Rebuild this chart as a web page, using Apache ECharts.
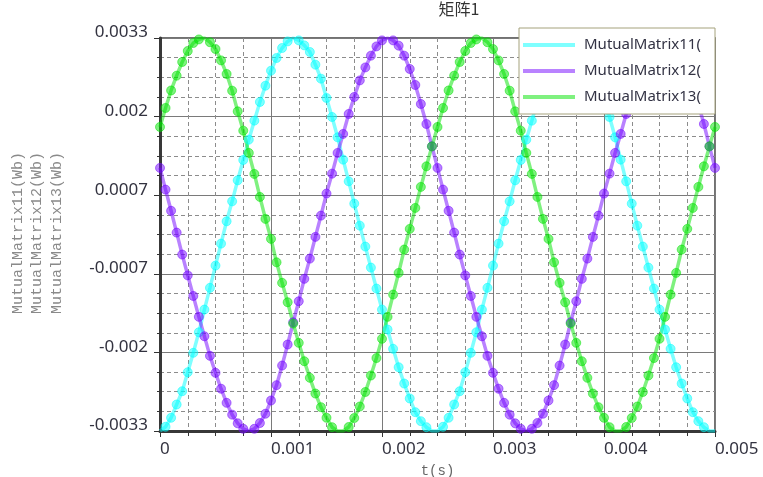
<!DOCTYPE html>
<html>
<head>
<meta charset="utf-8">
<script src="https://cdn.jsdelivr.net/npm/echarts@6/dist/echarts.min.js"></script>
<style>html,body{margin:0;padding:0;background:#fff;}#c{width:763px;height:477px;}</style>
</head>
<body>
<div id="c"></div>
<script>
const chartTitle = '矩阵1';
const seriesNames = ['MutualMatrix11(Wb)', 'MutualMatrix12(Wb)', 'MutualMatrix13(Wb)'];
const xName = 't(s)';
const xTickValues = [0, 0.001, 0.002, 0.003, 0.004, 0.005];
const xTickLabels = ['0', '0.001', '0.002', '0.003', '0.004', '0.005'];
const yTickValues = [-0.0033, -0.00198, -0.00066, 0.00066, 0.00198, 0.0033];
const yTickLabels = ['-0.0033', '-0.002', '-0.0007', '0.0007', '0.002', '0.0033'];

const times = [
0, 0.00005, 0.0001, 0.00015, 0.0002, 0.00025, 0.0003, 0.00035, 0.0004, 0.00045,
0.0005, 0.00055, 0.0006, 0.00065, 0.0007, 0.00075, 0.0008, 0.00085, 0.0009, 0.00095,
0.001, 0.00105, 0.0011, 0.00115, 0.0012, 0.00125, 0.0013, 0.00135, 0.0014, 0.00145,
0.0015, 0.00155, 0.0016, 0.00165, 0.0017, 0.00175, 0.0018, 0.00185, 0.0019, 0.00195,
0.002, 0.00205, 0.0021, 0.00215, 0.0022, 0.00225, 0.0023, 0.00235, 0.0024, 0.00245,
0.0025, 0.00255, 0.0026, 0.00265, 0.0027, 0.00275, 0.0028, 0.00285, 0.0029, 0.00295,
0.003, 0.00305, 0.0031, 0.00315, 0.0032, 0.00325, 0.0033, 0.00335, 0.0034, 0.00345,
0.0035, 0.00355, 0.0036, 0.00365, 0.0037, 0.00375, 0.0038, 0.00385, 0.0039, 0.00395,
0.004, 0.00405, 0.0041, 0.00415, 0.0042, 0.00425, 0.0043, 0.00435, 0.0044, 0.00445,
0.0045, 0.00455, 0.0046, 0.00465, 0.0047, 0.00475, 0.0048, 0.00485, 0.0049, 0.00495,
0.005
];

const mm11 = [
-0.0033, -0.003229, -0.003078, -0.002855, -0.002632, -0.002313, -0.001987, -0.001642, -0.001261, -0.000896,
-0.000522, -0.000153, 0.000222, 0.000557, 0.000910, 0.001252, 0.001593, 0.001912, 0.002226, 0.002499,
0.002751, 0.002964, 0.003132, 0.003243, 0.0033, 0.003260, 0.003176, 0.003065, 0.002852, 0.002617,
0.002293, 0.001974, 0.001632, 0.001257, 0.000893, 0.000519, 0.000149, -0.000203, -0.000556, -0.000908,
-0.001261, -0.001596, -0.001920, -0.002229, -0.002503, -0.002754, -0.002984, -0.003135, -0.003236, -0.0033,
-0.0033, -0.003229, -0.003078, -0.002855, -0.002632, -0.002313, -0.001987, -0.001642, -0.001261, -0.000896,
-0.000522, -0.000153, 0.000222, 0.000557, 0.000910, 0.001252, 0.001593, 0.001912, 0.002226, 0.002499,
0.002751, 0.002964, 0.003132, 0.003243, 0.0033, 0.003260, 0.003176, 0.003065, 0.002852, 0.002617,
0.002293, 0.001974, 0.001632, 0.001257, 0.000893, 0.000519, 0.000149, -0.000203, -0.000556, -0.000908,
-0.001261, -0.001596, -0.001920, -0.002229, -0.002503, -0.002754, -0.002984, -0.003135, -0.003236, -0.0033,
-0.0033
];

const mm12 = [
0.001118, 0.000754, 0.000398, 0.000032, -0.000337, -0.000687, -0.001032, -0.001383, -0.001709, -0.002038,
-0.002323, -0.002590, -0.002827, -0.003026, -0.003171, -0.003263, -0.0033, -0.003263, -0.003166, -0.003010,
-0.002788, -0.002530, -0.002201, -0.001848, -0.001474, -0.001121, -0.000745, -0.000405, -0.000040, 0.000317,
0.000687, 0.001022, 0.001370, 0.001689, 0.002024, 0.002310, 0.002588, 0.002806, 0.003003, 0.003159,
0.003260, 0.0033, 0.003260, 0.003171, 0.003003, 0.002780, 0.002511, 0.002192, 0.001856, 0.001480,
0.001118, 0.000754, 0.000398, 0.000032, -0.000337, -0.000687, -0.001032, -0.001383, -0.001709, -0.002038,
-0.002323, -0.002590, -0.002827, -0.003026, -0.003171, -0.003263, -0.0033, -0.003263, -0.003166, -0.003010,
-0.002788, -0.002530, -0.002201, -0.001848, -0.001474, -0.001121, -0.000745, -0.000405, -0.000040, 0.000317,
0.000687, 0.001022, 0.001370, 0.001689, 0.002024, 0.002310, 0.002588, 0.002806, 0.003003, 0.003159,
0.003260, 0.0033, 0.003260, 0.003171, 0.003003, 0.002780, 0.002511, 0.002192, 0.001856, 0.001480,
0.001118
];

const mm13 = [
0.001806, 0.002125, 0.002419, 0.002667, 0.002897, 0.003082, 0.003216, 0.003276, 0.0033, 0.003229,
0.003115, 0.002924, 0.002696, 0.002415, 0.002068, 0.001744, 0.001370, 0.001017, 0.000631, 0.000262,
-0.000074, -0.000467, -0.000812, -0.001138, -0.001496, -0.001820, -0.002128, -0.002407, -0.002671, -0.002900,
-0.003078, -0.003236, -0.0033, -0.0033, -0.003233, -0.003082, -0.002889, -0.002645, -0.002368, -0.002075,
-0.001752, -0.001383, -0.001009, -0.000645, -0.000253, 0.000094, 0.000446, 0.000799, 0.001145, 0.001480,
0.001806, 0.002125, 0.002419, 0.002667, 0.002897, 0.003082, 0.003216, 0.003276, 0.0033, 0.003229,
0.003115, 0.002924, 0.002696, 0.002415, 0.002068, 0.001744, 0.001370, 0.001017, 0.000631, 0.000262,
-0.000074, -0.000467, -0.000812, -0.001138, -0.001496, -0.001820, -0.002128, -0.002407, -0.002671, -0.002900,
-0.003078, -0.003236, -0.0033, -0.0033, -0.003233, -0.003082, -0.002889, -0.002645, -0.002368, -0.002075,
-0.001752, -0.001383, -0.001009, -0.000645, -0.000253, 0.000094, 0.000446, 0.000799, 0.001145, 0.001480,
0.001806
];

const seriesValues = [mm11, mm12, mm13];
const seriesColors = ['rgba(0,255,255,0.5)', 'rgba(115,5,255,0.5)', 'rgba(0,228,0,0.5)'];

const yMin = yTickValues[0];
const yMax = yTickValues[yTickValues.length - 1];

function buildData(vals) {
  return times.map(function (t, i) {
    const v = vals[i];
    if (Math.abs(v) >= yMax) return { value: [t, v], symbol: 'none' };
    return [t, v];
  });
}

function labelFor(values, labels, v) {
  for (let i = 0; i < values.length; i++) {
    if (Math.abs(values[i] - v) < 1e-9) return labels[i];
  }
  return '';
}

const chart = echarts.init(document.getElementById('c'), null, { renderer: 'canvas' });

const option = {
  animation: false,
  backgroundColor: '#ffffff',
  title: {
    text: chartTitle,
    left: 459,
    top: 1,
    padding: 0,
    textAlign: 'center',
    textStyle: { fontFamily: 'Noto Sans CJK SC', fontSize: 16, fontWeight: 'normal', color: '#333333' }
  },
  legend: {
    orient: 'vertical',
    left: 519,
    top: 28,
    padding: [7, 0, 7, 4],
    itemWidth: 52,
    itemHeight: 4,
    itemGap: 6,
    icon: 'rect',
    itemStyle: { borderWidth: 0 },
    backgroundColor: '#ffffff',
    borderColor: '#a5a27c',
    borderWidth: 1,
    data: seriesNames,
    textStyle: {
      fontFamily: 'Noto Sans',
      fontSize: 15,
      color: '#333344',
      lineHeight: 20,
      width: 131,
      overflow: 'truncate',
      ellipsis: '',
      padding: [0, 0, 0, 4]
    }
  },
  grid: {
    left: 160,
    top: 38,
    width: 555,
    height: 393,
    outerBoundsMode: 'none',
    containLabel: false,
    show: true,
    borderColor: '#444444',
    borderWidth: 1.5,
    backgroundColor: 'transparent'
  },
  xAxis: {
    type: 'value',
    min: xTickValues[0],
    max: xTickValues[xTickValues.length - 1],
    interval: 0.001,
    name: xName,
    nameLocation: 'middle',
    nameGap: 22,
    nameTextStyle: { fontFamily: 'Liberation Mono', fontSize: 14, color: '#666666' },
    axisLine: { show: true, onZero: false, lineStyle: { color: '#383838', width: 3 } },
    axisTick: { show: true, length: 6, lineStyle: { color: '#333333', width: 1 } },
    minorTick: { show: true, splitNumber: 4, length: 5, lineStyle: { color: '#333333', width: 1 } },
    axisLabel: {
      fontFamily: 'Noto Sans',
      fontSize: 17,
      color: '#333340',
      align: 'left',
      margin: 8,
      verticalAlign: 'top',
      lineHeight: 20,
      formatter: function (v) { return labelFor(xTickValues, xTickLabels, v); }
    },
    splitLine: { show: true, lineStyle: { color: '#7a7a7a', width: 1, type: 'solid' } },
    minorSplitLine: { show: true, lineStyle: { color: '#8c8c8c', width: 1, type: [4, 3] } }
  },
  yAxis: {
    type: 'value',
    min: yMin,
    max: yMax,
    interval: 0.00132,
    axisLine: { show: true, onZero: false, lineStyle: { color: '#383838', width: 3 } },
    axisTick: { show: true, length: 6, lineStyle: { color: '#333333', width: 1 } },
    minorTick: { show: true, splitNumber: 4, length: 3, lineStyle: { color: '#333333', width: 1 } },
    axisLabel: {
      fontFamily: 'Noto Sans',
      fontSize: 17,
      color: '#333340',
      margin: 12,
      verticalAlign: 'bottom',
      lineHeight: 11,
      formatter: function (v) { return labelFor(yTickValues, yTickLabels, v); }
    },
    splitLine: { show: true, lineStyle: { color: '#7a7a7a', width: 1, type: 'solid' } },
    minorSplitLine: { show: true, lineStyle: { color: '#8c8c8c', width: 1, type: [4, 3] } }
  },
  graphic: [
    { type: 'text', x: 18, y: 233, rotation: Math.PI / 2,
      style: { text: seriesNames[0], font: '15px "Liberation Mono"', fill: '#8a8a8a', align: 'center', verticalAlign: 'middle' } },
    { type: 'text', x: 37.5, y: 233, rotation: Math.PI / 2,
      style: { text: seriesNames[1], font: '15px "Liberation Mono"', fill: '#8a8a8a', align: 'center', verticalAlign: 'middle' } },
    { type: 'text', x: 57, y: 233, rotation: Math.PI / 2,
      style: { text: seriesNames[2], font: '15px "Liberation Mono"', fill: '#8a8a8a', align: 'center', verticalAlign: 'middle' } }
  ],
  series: seriesNames.map(function (name, i) {
    return {
      name: name,
      type: 'line',
      data: buildData(seriesValues[i]),
      symbol: 'circle',
      symbolSize: 9,
      showAllSymbol: true,
      smooth: false,
      lineStyle: { color: seriesColors[i], width: 3.5 },
      itemStyle: { color: seriesColors[i], borderColor: seriesColors[i], borderWidth: 1 },
      emphasis: { disabled: true }
    };
  })
};

chart.setOption(option);
</script>
</body>
</html>
